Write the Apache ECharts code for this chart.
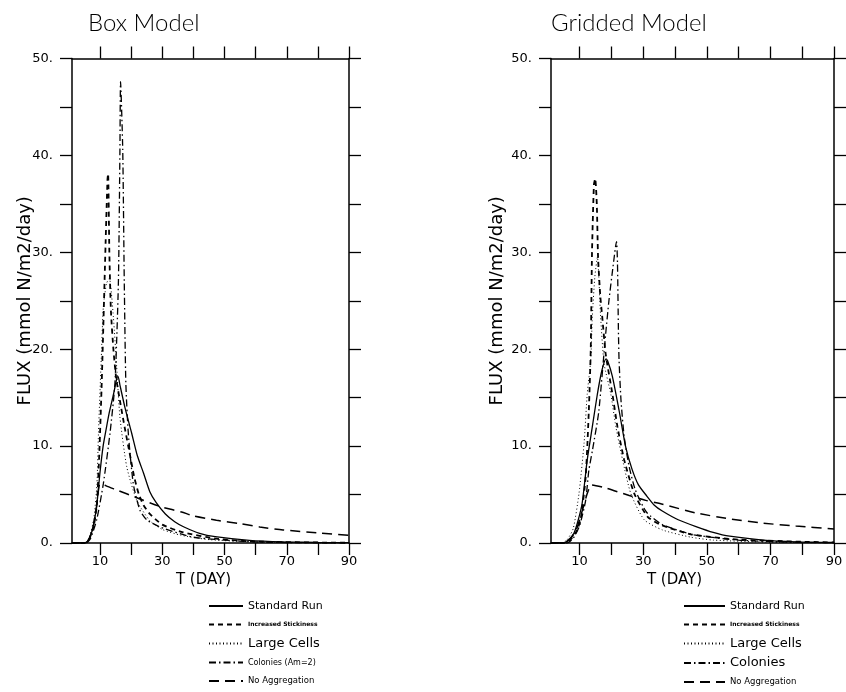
<!DOCTYPE html>
<html>
<head>
<meta charset="utf-8">
<script src="https://cdn.jsdelivr.net/npm/echarts@6/dist/echarts.min.js"></script>
<style>
html,body{margin:0;padding:0;background:#fff;}
#chart{width:846px;height:692px;}
</style>
</head>
<body>
<div id="chart"></div>
<script>
// ---- tick labels / axis values ----
var xTickValues = [10, 20, 30, 40, 50, 60, 70, 80, 90];
var xLabelValues = [10, 30, 50, 70, 90];
var panelTitles = ['Box Model', 'Gridded Model'];
var boxLegendNames = ['Standard Run', 'Increased Stickiness', 'Large Cells', 'Colonies (Am=2)', 'No Aggregation'];
var gridLegendNames = ['Standard Run', 'Increased Stickiness', 'Large Cells', 'Colonies', 'No Aggregation'];

// ---- Box Model series [T, flux] ----
var boxStandard = [[1,0],[5,0],[6,0.2],[7,0.8],[8,2.0],[9,4.0],[10,7.3],[11,10.0],[12,11.8],[13,13.5],[14.3,15.3],[15.4,17.0],[15.8,17.2],[16.4,16.3],[18,14],[20.2,11.3],[22,9.0],[24,7.2],[26,5.3],[28,4.2],[31,3.0],[34,2.2],[37,1.65],[42,1.0],[47,0.65],[58,0.28],[69,0.12],[80,0.05],[90,0.03]];
var boxStickiness = [[1,0],[5,0],[6.5,0.4],[8,1.8],[9,4.0],[9.8,9.5],[10.5,16],[11.06,22.3],[11.8,31],[12.4,37.5],[12.6,38.1],[13,30],[13.5,24],[14.3,20],[15.2,17],[16.5,14.5],[18,11.8],[19.5,9.3],[21,6.8],[22.5,5.0],[24,3.9],[26,3.0],[30,1.9],[36.7,1.1],[47.4,0.45],[60,0.15],[90,0.02]];
var boxLarge = [[1,0],[5,0],[6.5,0.5],[8,2.5],[9,6.0],[9.5,11.3],[10.5,19.9],[11.07,24.4],[12.1,26.8],[13,27.3],[14.3,23.3],[15.35,18.2],[16.4,13.0],[18.6,7.85],[21.8,4.4],[26,2.3],[30,1.4],[36,0.8],[45,0.35],[60,0.1],[90,0.02]];
var boxColonies = [[1,0],[5.5,0],[7,0.5],[9,2.5],[11.06,6.1],[13.2,11.3],[14.8,16.5],[15.9,26.8],[16.4,40.6],[16.6,47.6],[17.3,40.6],[17.8,26.8],[18.3,16.5],[19.1,11.3],[20.7,6.1],[22.8,3.4],[25,2.4],[29.3,1.65],[40,0.6],[61,0.1],[90,0.02]];
var boxNoAgg = [[1,0],[5,0],[6.5,0.4],[8,2.0],[9,4.0],[10,6.1],[12,5.9],[15.9,5.4],[21.2,4.75],[26.6,4.07],[30,3.7],[36.2,3.2],[40,2.8],[47.4,2.35],[55,2.0],[61.3,1.65],[68.8,1.35],[80,1.05],[90,0.8]];

// ---- Gridded Model series [T, flux] ----
var gridStandard = [[1,0],[5,0],[6.5,0.3],[8.2,1.0],[9.5,2.3],[10.8,4.1],[12.4,8.6],[14,12],[15.6,15.4],[17,17.8],[18.3,19.0],[18.8,18.8],[20.3,17.2],[22.4,13.7],[24.5,9.9],[26.5,7.6],[28.5,6.0],[31,4.9],[33.5,3.9],[36,3.3],[41,2.4],[46.6,1.7],[52,1.1],[57.2,0.7],[67.7,0.3],[78,0.12],[90,0.05]];
var gridStickiness = [[1,0],[5,0],[7,0.3],[9,1.2],[10.3,2.4],[11.9,6.8],[12.9,13.7],[13.5,20],[13.9,30],[14.5,37],[14.9,37.6],[15.4,35],[15.8,29.5],[16.5,25.5],[17.1,23.4],[18.2,19.5],[20.3,15.4],[21.9,12],[24,8.6],[27.2,5.1],[31.4,2.7],[35.6,1.86],[45,0.9],[60,0.35],[90,0.05]];
var gridLarge = [[1,0],[4,0],[6,0.3],[8,1.5],[9.8,5.1],[11.4,10.3],[12.4,15.4],[13.5,18.9],[14,23.4],[14.8,27.5],[15.6,29.5],[16.6,23.4],[17.7,18.5],[19.8,15.4],[21.4,12],[23.5,8.6],[26.1,5.1],[30.3,2.4],[36.1,1.34],[45,0.6],[52,0.3],[70,0.08],[90,0.02]];
var gridColonies = [[1,0],[6,0],[8,0.5],[10,1.8],[11.9,4.4],[12.9,7.5],[14,9.5],[16,13.5],[18.2,21.6],[19.25,25.1],[20.5,28.5],[21.6,31.1],[21.9,29],[22.2,22],[22.4,18.9],[23,14.8],[24,11],[25.5,8],[27.5,5.5],[31,3.2],[36,1.9],[46,0.85],[60,0.3],[75,0.1],[90,0.03]];
var gridNoAgg = [[1,0],[5,0],[7,0.4],[9,1.4],[10.8,3.3],[12.5,5.2],[13.7,6.0],[18,5.7],[25.6,4.9],[30.8,4.4],[36.1,4.0],[46.6,3.1],[57,2.5],[67.7,2.05],[78,1.75],[90,1.45]];

var FONT = 'DejaVu Sans';
var styles = {
  std:   {type:'solid', width:1.3},
  stick: {type:[5,4], width:1.8},
  large: {type:[1,2.5], width:1},
  col:   {type:[7,3,1.5,3], width:1.3},
  noagg: {type:[10,6], width:1.5}
};

function mkSeries(name, data, st, idx) {
  return {
    name: name, type: 'line', data: data, xAxisIndex: idx, yAxisIndex: idx,
    symbol: 'none', smooth: 0.2, animation: false,
    lineStyle: {color: '#000', width: st.width, type: st.type},
    itemStyle: {color: '#000'}
  };
}

function xAx(gridIndex, pos, showLabel, min) {
  return {
    type: 'value', gridIndex: gridIndex, position: pos, min: min, max: 90,
    splitLine: {show: false},
    axisLine: {show: true, onZero: false, lineStyle: {color: '#000', width: 1.5}},
    axisTick: {show: true, inside: false, length: 12, customValues: xTickValues, lineStyle: {color: '#000', width: 1.3}},
    axisLabel: {show: showLabel, customValues: xLabelValues, margin: 12, color: '#000', fontSize: 13, fontFamily: FONT}
  };
}
function yAx(gridIndex, pos, showLabel) {
  return {
    type: 'value', gridIndex: gridIndex, position: pos, min: 0, max: 50, interval: 5,
    splitLine: {show: false},
    axisLine: {show: true, onZero: false, lineStyle: {color: '#000', width: 1.5}},
    axisTick: {show: true, inside: false, length: 12, lineStyle: {color: '#000', width: 1.3}},
    axisLabel: {show: showLabel, margin: 19, color: '#000', fontSize: 13, fontFamily: FONT,
      formatter: function (v) { return (v % 10 === 0) ? (v + '.') : ''; }}
  };
}

var xAxes = [xAx(0, 'bottom', true, 1), xAx(0, 'top', false, 1), xAx(1, 'bottom', true, 1), xAx(1, 'top', false, 1)];
xAxes[0].name = 'T (DAY)'; xAxes[0].nameLocation = 'middle'; xAxes[0].nameGap = 29;
xAxes[0].nameTextStyle = {color: '#000', fontSize: 15, fontFamily: FONT, padding: [0, 14, 0, 0]};
xAxes[2].name = 'T (DAY)'; xAxes[2].nameLocation = 'middle'; xAxes[2].nameGap = 29;
xAxes[2].nameTextStyle = {color: '#000', fontSize: 15, fontFamily: FONT, padding: [0, 36, 0, 0]};

var yAxes = [yAx(0, 'left', true), yAx(0, 'right', false), yAx(1, 'left', true), yAx(1, 'right', false)];
yAxes[0].name = 'FLUX (mmol N/m2/day)'; yAxes[0].nameLocation = 'middle'; yAxes[0].nameGap = 38; yAxes[0].nameRotate = 90;
yAxes[0].nameMoveOverlap = false;
yAxes[0].nameTextStyle = {color: '#000', fontSize: 18, fontFamily: FONT};
yAxes[2].name = 'FLUX (mmol N/m2/day)'; yAxes[2].nameLocation = 'middle'; yAxes[2].nameGap = 45; yAxes[2].nameRotate = 90;
yAxes[2].nameMoveOverlap = false;
yAxes[2].nameTextStyle = {color: '#000', fontSize: 18, fontFamily: FONT};

function legendData(names, sizes) {
  return names.map(function (n, i) {
    return {name: n, textStyle: {fontSize: sizes[i], lineHeight: 12, fontWeight: sizes[i] < 8 ? 'bold' : 'normal'}};
  });
}

var legendCommon = {
  orient: 'vertical', top: 595, height: 97, itemHeight: 12, itemGap: 6.5,
  textStyle: {color: '#000', fontFamily: FONT}, selectedMode: false,
  itemStyle: {color: 'transparent', borderWidth: 0, opacity: 0}
};

var option = {
  backgroundColor: '#fff',
  animation: false,
  title: [
    {text: panelTitles[0], left: 83, top: 6, textStyle: {fontSize: 24, fontWeight: 300, fontFamily: 'Lato', color: '#000'}},
    {text: panelTitles[1], left: 546, top: 6, textStyle: {fontSize: 24, fontWeight: 300, fontFamily: 'Lato', color: '#000'}}
  ],
  grid: [
    {left: 72, top: 58.5, width: 277, height: 484.5},
    {left: 551, top: 58.5, width: 283, height: 484.5}
  ],
  xAxis: xAxes,
  yAxis: yAxes,
  legend: [
    Object.assign({}, legendCommon, {left: 203, itemWidth: 34, data: legendData(boxLegendNames, [11, 6, 13, 8, 8.5])}),
    Object.assign({}, legendCommon, {left: 678, itemWidth: 41, data: legendData(gridLegendNames, [11, 6, 13, 13, 8.5])})
  ],
  series: [
    mkSeries(boxLegendNames[0], boxStandard, styles.std, 0),
    mkSeries(boxLegendNames[1], boxStickiness, styles.stick, 0),
    mkSeries(boxLegendNames[2], boxLarge, styles.large, 0),
    mkSeries(boxLegendNames[3], boxColonies, styles.col, 0),
    mkSeries(boxLegendNames[4], boxNoAgg, styles.noagg, 0),
    mkSeries(gridLegendNames[0], gridStandard, styles.std, 2),
    mkSeries(gridLegendNames[1], gridStickiness, styles.stick, 2),
    mkSeries(gridLegendNames[2], gridLarge, styles.large, 2),
    mkSeries(gridLegendNames[3], gridColonies, styles.col, 2),
    mkSeries(gridLegendNames[4], gridNoAgg, styles.noagg, 2)
  ]
};

var chart = echarts.init(document.getElementById('chart'), null, {renderer: 'canvas'});
chart.setOption(option);
</script>
</body>
</html>
